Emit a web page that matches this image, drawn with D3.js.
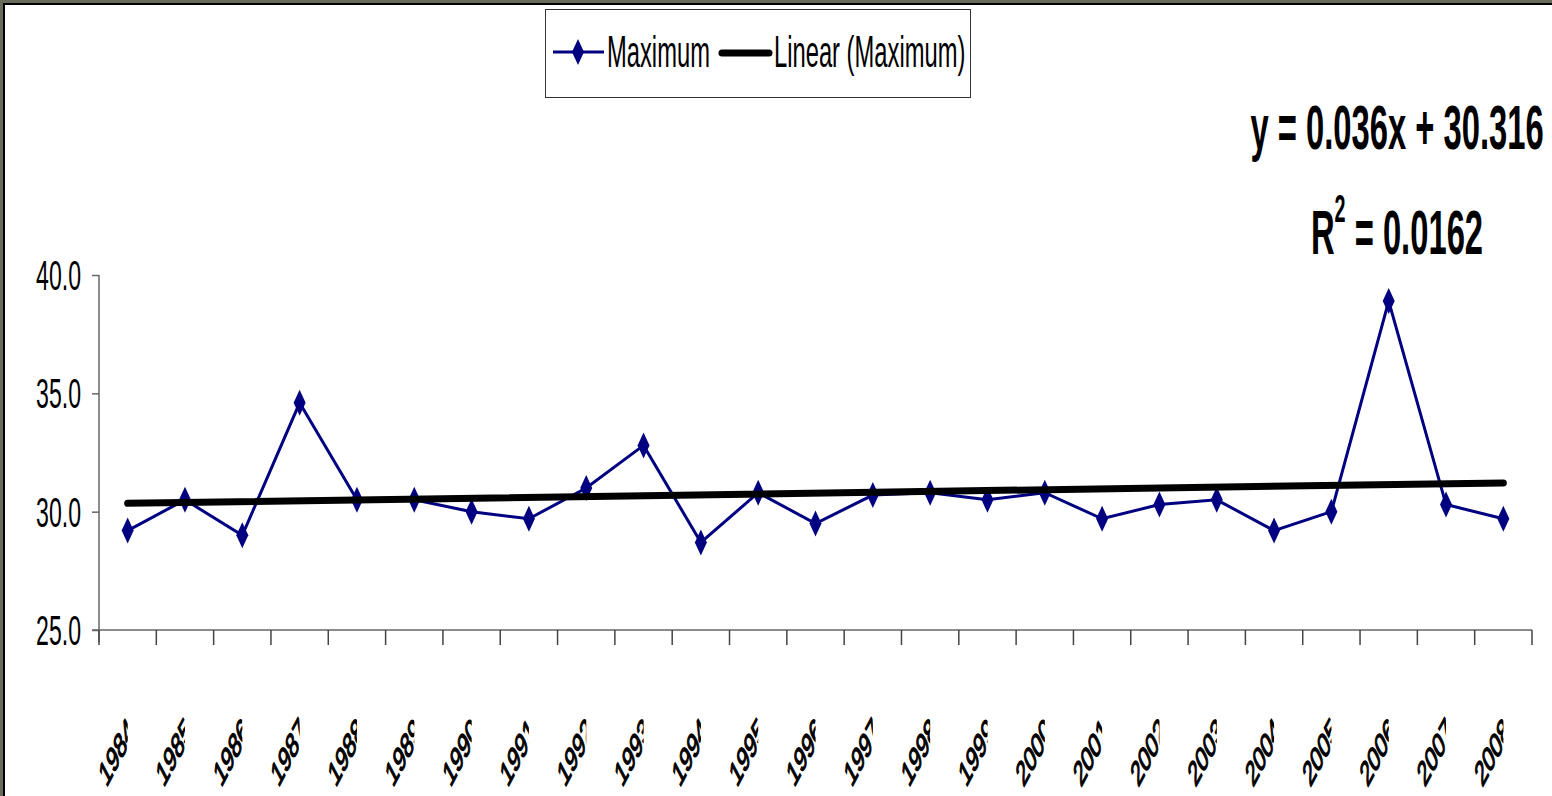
<!DOCTYPE html>
<html>
<head>
<meta charset="utf-8">
<script src="https://cdn.jsdelivr.net/npm/d3@7"></script>
<style>
  html, body { margin:0; padding:0; background:#6b6b5d; overflow:hidden; }
  svg { display:block; }
  text { font-family:"Liberation Sans", Arial, sans-serif; fill:#000; }
</style>
</head>
<body>
<svg id="chart"></svg>
<script>
const width = 1552;
const height = 796;

const years = ['1984','1985','1986','1987','1988','1989','1990','1991','1992','1993','1994','1995','1996',
               '1997','1998','1999','2000','2001','2002','2003','2004','2005','2006','2007','2008'];
const maximum = [29.2,30.5,29.0,34.6,30.5,30.5,30.0,29.7,31.0,32.8,28.7,30.8,29.5,
                 30.7,30.8,30.5,30.8,29.7,30.3,30.5,29.2,30.0,38.9,30.3,29.7];
const yTicks = [25,30,35,40];
const trendSlope = 0.036;
const trendIntercept = 30.316;
const legendNames = ['Maximum','Linear (Maximum)'];
const eqLine1 = 'y = 0.036x + 30.316';
const eqLine2 = '0.0162';

const navy = '#000080';

const svg = d3.select('#chart')
  .attr('width', width)
  .attr('height', height)
  .attr('viewBox', [0, 0, width, height]);

// white sheet with black edge
svg.append('rect')
  .attr('x', 4).attr('y', 4)
  .attr('width', width).attr('height', height)
  .attr('fill', '#fff')
  .attr('stroke', '#000')
  .attr('stroke-width', 2);

const x = d3.scaleBand().domain(years).range([99, 1532]);
const y = d3.scaleLinear().domain([25, 40]).range([630, 275]);
const cx = d => x(d) + x.bandwidth() / 2;

// narrow text: draw with Liberation Sans and squash horizontally
function squash(parent, px, py, sx, str, size, anchor, weight) {
  return parent.append('g')
    .attr('transform', `translate(${px},${py}) scale(${sx},1)`)
    .append('text')
    .attr('text-anchor', anchor || 'start')
    .attr('font-size', size)
    .attr('font-weight', weight || 'normal')
    .text(str);
}

// y axis
const yAxis = svg.append('g')
  .attr('transform', 'translate(99,0)')
  .call(d3.axisLeft(y).tickValues(yTicks).tickSize(7).tickFormat(''));
yAxis.select('.domain').attr('stroke', '#666').attr('stroke-width', 1.5).attr('d', 'M0,275V642');
yAxis.selectAll('.tick line').attr('stroke', '#666').attr('stroke-width', 1.5);

yTicks.forEach(t => {
  squash(svg, 81, y(t) + 15, 0.55, d3.format('.1f')(t), 42, 'end');
});

// x axis with ticks at category boundaries
svg.append('line')
  .attr('x1', 92).attr('x2', 1532)
  .attr('y1', y(25)).attr('y2', y(25))
  .attr('stroke', '#666').attr('stroke-width', 1.5);

svg.append('g').selectAll('line')
  .data(years.concat(['end']))
  .enter().append('line')
    .attr('x1', (d,i) => i < years.length ? x(d) : x.range()[1])
    .attr('x2', (d,i) => i < years.length ? x(d) : x.range()[1])
    .attr('y1', y(25)).attr('y2', y(25) + 15)
    .attr('stroke', '#444').attr('stroke-width', 1.5);

// rotated year labels, clipped at the category centre like the original
const defs = svg.append('defs');
years.forEach((d, i) => {
  defs.append('clipPath').attr('id', 'clip' + i)
    .append('rect')
      .attr('x', x(d) - 40).attr('y', 640)
      .attr('width', x.bandwidth() / 2 + 40).attr('height', 160);
  svg.append('g')
    .attr('clip-path', `url(#clip${i})`)
    .append('g')
      .attr('transform', `translate(${cx(d) + 8},${733}) scale(0.53,1) rotate(-45)`)
      .append('text')
        .attr('text-anchor', 'end')
        .attr('font-size', 35)
        .attr('stroke', '#000')
        .attr('stroke-width', 1.5)
        .text(d);
});

// series
const line = d3.line()
  .x((d,i) => cx(years[i]))
  .y(d => y(d));

svg.append('path')
  .datum(maximum)
  .attr('fill', 'none')
  .attr('stroke', navy)
  .attr('stroke-width', 3)
  .attr('d', line);

const diamond = (w, h) => `M0,${-h/2}L${w/2},0L0,${h/2}L${-w/2},0Z`;

svg.append('g').selectAll('path')
  .data(maximum)
  .enter().append('path')
    .attr('transform', (d,i) => `translate(${cx(years[i])},${y(d)})`)
    .attr('d', diamond(12, 26))
    .attr('fill', navy);

// linear trend
const n = years.length;
svg.append('line')
  .attr('x1', cx(years[0])).attr('y1', y(trendIntercept + trendSlope * 1))
  .attr('x2', cx(years[n-1])).attr('y2', y(trendIntercept + trendSlope * n))
  .attr('stroke', '#000')
  .attr('stroke-width', 7)
  .attr('stroke-linecap', 'round');

// legend
const legend = svg.append('g');
legend.append('rect')
  .attr('x', 545.5).attr('y', 9.5)
  .attr('width', 425).attr('height', 88)
  .attr('fill', '#fff')
  .attr('stroke', '#333')
  .attr('stroke-width', 1);

legend.append('line')
  .attr('x1', 553).attr('x2', 604).attr('y1', 52).attr('y2', 52)
  .attr('stroke', navy).attr('stroke-width', 3);
legend.append('path')
  .attr('transform', 'translate(578,52)')
  .attr('d', diamond(12, 26))
  .attr('fill', navy);
squash(legend, 607, 67, 0.54, legendNames[0], 44);

legend.append('line')
  .attr('x1', 722).attr('x2', 769).attr('y1', 53).attr('y2', 53)
  .attr('stroke', '#000').attr('stroke-width', 7)
  .attr('stroke-linecap', 'round');
squash(legend, 774, 67, 0.54, legendNames[1], 44);

// trend equation
squash(svg, 1397, 149, 0.52, eqLine1, 63, 'middle', 'bold');
const r2 = svg.append('g')
  .attr('transform', 'translate(1397,254) scale(0.52,1)')
  .append('text')
  .attr('text-anchor', 'middle')
  .attr('font-size', 63)
  .attr('font-weight', 'bold');
r2.append('tspan').text('R');
r2.append('tspan').attr('font-size', 38).attr('dy', -32).text('2');
r2.append('tspan').attr('dy', 32).text(' = ' + eqLine2);
</script>
</body>
</html>
